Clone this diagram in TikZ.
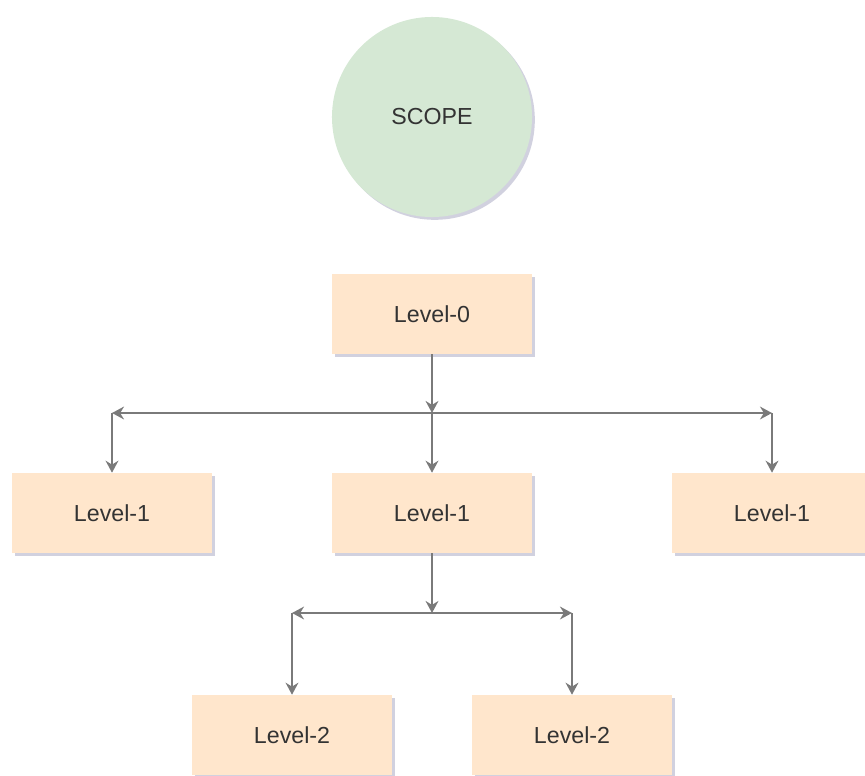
\documentclass[tikz,border=0pt]{standalone}
\usepackage{fontspec}
\setmainfont{Liberation Sans}
\usepackage{tikz}
\usetikzlibrary{arrows.meta, shadows}
\definecolor{ScopeGreen}{HTML}{D5E8D4}
\definecolor{LevelPeach}{HTML}{FFE6CC}
\definecolor{LinkGray}{HTML}{7A7A7A}
\definecolor{TextInk}{HTML}{333333}
\definecolor{ShadowBlue}{HTML}{9A9AB8}

\begin{document}
\begin{tikzpicture}[
  x=0.025cm, y=-0.025cm,
  font=\fontsize{16.5}{20}\selectfont,
  >={Stealth[length=3mm, width=3.2mm]},
  boxshadow/.style={drop shadow={shadow xshift=2pt, shadow yshift=-2pt,
                    fill=ShadowBlue, opacity=0.45}},
  level/.style={rectangle, fill=LevelPeach, text=TextInk, inner sep=0pt,
                minimum width=5cm, minimum height=2cm, boxshadow},
  scopecirc/.style={circle, fill=ScopeGreen, text=TextInk, inner sep=0pt,
                    minimum size=5cm, boxshadow},
  arr/.style={->, draw=LinkGray, line width=1.3pt},
]
\useasboundingbox (0,0) rectangle (865,775);
\node[scopecirc] (scope) at (432,117) {SCOPE};
\node[level] (lvl0) at (432,314) {Level-0};
\node[level] (lvl1a) at (112,513) {Level-1};
\node[level] (lvl1b) at (432,513) {Level-1};
\node[level] (lvl1c) at (772,513) {Level-1};
\node[level] (lvl2a) at (292,735) {Level-2};
\node[level] (lvl2b) at (572,735) {Level-2};
% forks
\coordinate (fork0) at (432,413);
\coordinate (fork0l) at (fork0 -| lvl1a);
\coordinate (fork0r) at (fork0 -| lvl1c);
\coordinate (fork1) at (432,613);
\coordinate (fork1l) at (fork1 -| lvl2a);
\coordinate (fork1r) at (fork1 -| lvl2b);
\draw[arr] (lvl0) -- (fork0);
\draw[arr] (fork0) -- (fork0l);
\draw[arr] (fork0) -- (fork0r);
\draw[arr] (fork0l) -- (lvl1a);
\draw[arr] (fork0) -- (lvl1b);
\draw[arr] (fork0r) -- (lvl1c);
\draw[arr] (lvl1b) -- (fork1);
\draw[arr] (fork1) -- (fork1l);
\draw[arr] (fork1) -- (fork1r);
\draw[arr] (fork1l) -- (lvl2a);
\draw[arr] (fork1r) -- (lvl2b);
\end{tikzpicture}
\end{document}
